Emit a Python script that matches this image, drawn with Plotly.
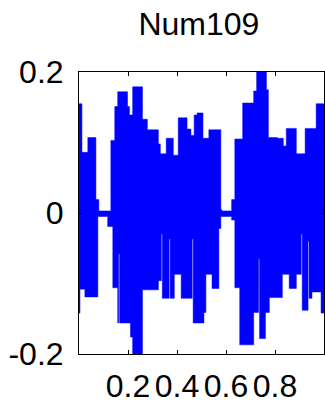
import plotly.graph_objects as go

# Step envelope of the signal: each value holds from its x until the next x
upper_x = [0.000, 0.012, 0.036, 0.069, 0.081, 0.130, 0.146, 0.158, 0.198, 0.206, 0.219,
           0.259, 0.279, 0.324, 0.332, 0.356, 0.385, 0.405, 0.441, 0.457, 0.470, 0.482,
           0.506, 0.530, 0.579, 0.583, 0.623, 0.636, 0.668, 0.713, 0.725, 0.765, 0.773,
           0.810, 0.834, 0.846, 0.887, 0.923, 0.968]
upper_y = [0.155, 0.086, 0.107, 0.019, 0.003, 0.103, 0.151, 0.172, 0.151, 0.139, 0.179,
           0.133, 0.118, 0.098, 0.084, 0.106, 0.082, 0.135, 0.119, 0.110, 0.139, 0.142,
           0.106, 0.118, 0.005, 0.003, 0.019, 0.105, 0.156, 0.173, 0.205, 0.175, 0.107,
           0.106, 0.095, 0.120, 0.084, 0.120, 0.155]

lower_x = [0.000, 0.004, 0.024, 0.077, 0.117, 0.138, 0.158, 0.162, 0.166, 0.210, 0.219,
           0.259, 0.324, 0.336, 0.340, 0.368, 0.372, 0.389, 0.417, 0.462, 0.466, 0.510,
           0.518, 0.543, 0.571, 0.579, 0.623, 0.636, 0.656, 0.713, 0.733, 0.737, 0.761,
           0.777, 0.830, 0.858, 0.887, 0.907, 0.911, 0.935, 0.939, 0.951, 0.988]
lower_y = [-0.142, -0.108, -0.119, -0.005, -0.019, -0.106, -0.156, -0.058, -0.156, -0.176, -0.205,
           -0.109, -0.096, -0.030, -0.121, -0.037, -0.121, -0.087, -0.121, -0.037, -0.156, -0.141,
           -0.087, -0.107, -0.022, -0.005, -0.010, -0.106, -0.187, -0.141, -0.065, -0.178, -0.141,
           -0.120, -0.087, -0.107, -0.087, -0.030, -0.138, -0.040, -0.121, -0.112, -0.142]

x_end = 1.0
title_text = "Num109"
x_ticks = [0.2, 0.4, 0.6, 0.8]
x_tick_labels = ["0.2", "0.4", "0.6", "0.8"]
y_ticks = [-0.2, 0, 0.2]
y_tick_labels = ["-0.2", "0", "0.2"]

BLUE = "#0000FF"
FONT = "Liberation Sans, Arial, sans-serif"

fig = go.Figure()
fig.add_trace(go.Scatter(
    x=upper_x + [x_end], y=upper_y + [upper_y[-1]],
    mode="lines", line=dict(color=BLUE, width=0.5, shape="hv"),
    hoverinfo="skip", showlegend=False))
fig.add_trace(go.Scatter(
    x=lower_x + [x_end], y=lower_y + [lower_y[-1]],
    mode="lines", line=dict(color=BLUE, width=0.5, shape="hv"),
    fill="tonexty", fillcolor=BLUE,
    hoverinfo="skip", showlegend=False))

axis_common = dict(
    showline=True, linecolor="black", linewidth=1, mirror="ticks",
    ticks="inside", ticklen=4, tickcolor="black", tickwidth=1,
    showgrid=False, zeroline=False,
    tickfont=dict(family=FONT, size=32, color="black"),
)

fig.update_layout(
    width=325, height=404,
    margin=dict(l=79, r=0, t=72, b=47),
    paper_bgcolor="white", plot_bgcolor="white",
    title=dict(text=title_text, x=0.612, xanchor="center", y=0.942, yanchor="middle",
               font=dict(family=FONT, size=32, color="black")),
    xaxis=dict(range=[0, 1], tickvals=x_ticks, ticktext=x_tick_labels,
               ticklabelstandoff=4, **axis_common),
    yaxis=dict(range=[-0.2, 0.2], tickvals=y_ticks, ticktext=y_tick_labels,
               ticklabelstandoff=8, **axis_common),
)

fig.write_html("out.html",
               config={"displayModeBar": False, "staticPlot": True},
               post_script="document.body.style.margin='0';document.body.style.overflow='hidden';")
